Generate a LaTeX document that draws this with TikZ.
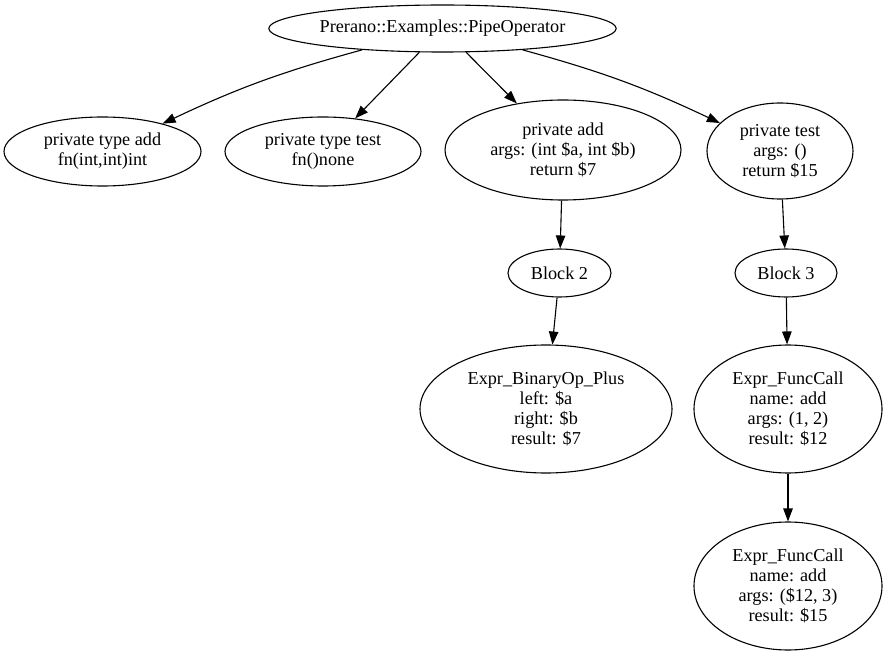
\documentclass[tikz,border=0pt]{standalone}
\usepackage{fontspec}
\setmainfont{Liberation Serif}
\usetikzlibrary{arrows.meta,shapes.geometric}
\begin{document}
\begin{tikzpicture}[x=1pt,y=-1pt,
  nd/.style={draw, ellipse, inner sep=0pt, align=center, font=\fontsize{18.2}{20}\selectfont, line width=1.1pt},
  conn/.style={draw, line width=1.1pt, -{Triangle[length=13pt,width=9.5pt]}}]
\useasboundingbox (0,0) rectangle (887,655);
\node[nd, minimum width=347pt, minimum height=47pt] (root) at (442.5,28.5) {Prerano::Examples::PipeOperator};
\node[nd, minimum width=197pt, minimum height=69pt] (tadd) at (102.5,151.5) {private type add\\fn(int,int)int};
\node[nd, minimum width=196pt, minimum height=69pt] (ttest) at (323,151.5) {private type test\\fn()none};
\node[nd, minimum width=236pt, minimum height=100pt] (fadd) at (563,150) {private add\\args: (int \$a, int \$b)\\return \$7};
\node[nd, minimum width=146pt, minimum height=96pt] (ftest) at (780,151) {private test\\args: ()\\return \$15};
\node[nd, minimum width=103pt, minimum height=48pt] (b2) at (559.5,273) {Block 2};
\node[nd, minimum width=102pt, minimum height=48pt] (b3) at (786,273) {Block 3};
\node[nd, minimum width=252pt, minimum height=128pt] (binop) at (546,409) {Expr\_BinaryOp\_Plus\\left: \$a\\right: \$b\\result: \$7};
\node[nd, minimum width=188pt, minimum height=128pt] (fc1) at (788,409) {Expr\_FuncCall\\name: add\\args: (1, 2)\\result: \$12};
\node[nd, minimum width=188pt, minimum height=128pt] (fc2) at (788,586) {Expr\_FuncCall\\name: add\\args: (\$12, 3)\\result: \$15};
\draw[conn] (root) to[bend right=5] (tadd);
\draw[conn] (root) -- (ttest);
\draw[conn] (root) -- (fadd);
\draw[conn] (root) to[bend left=5] (ftest);
\draw[conn] (fadd) -- (b2);
\draw[conn] (ftest) -- (b3);
\draw[conn] (b2) -- (binop);
\draw[conn] (b3) -- (fc1);
\draw[conn] (fc1) -- (fc2);
\end{tikzpicture}
\end{document}
